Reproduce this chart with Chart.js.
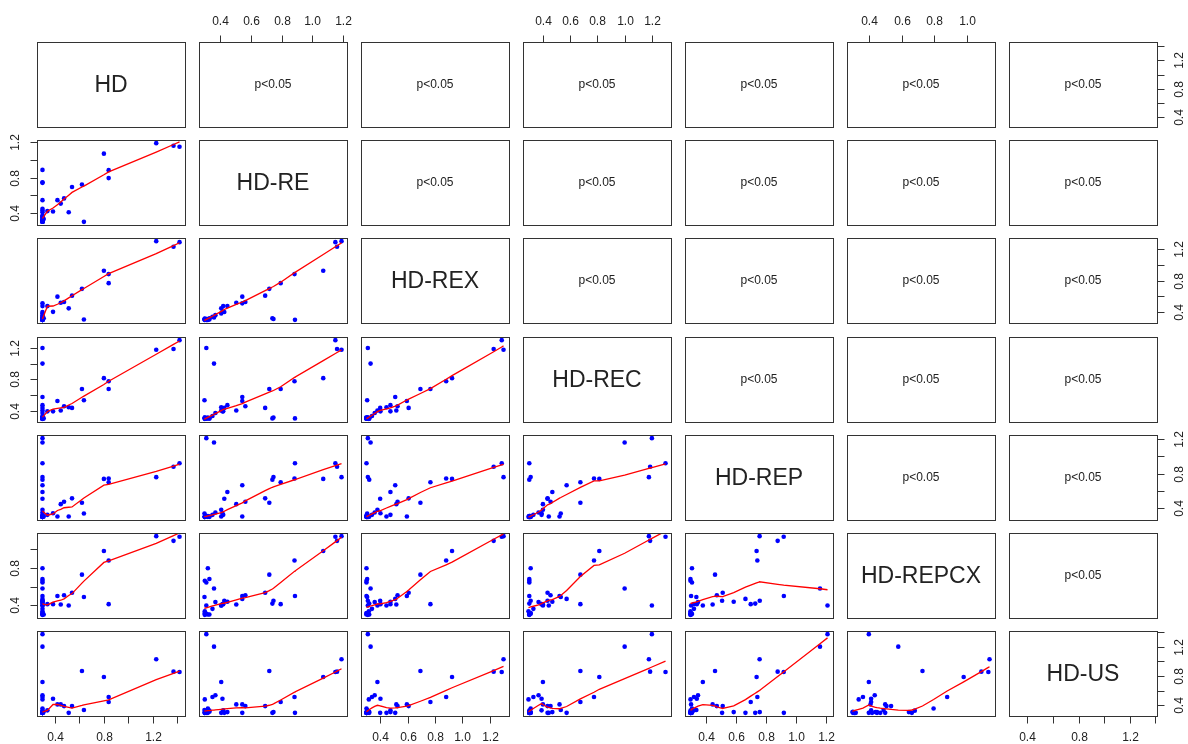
<!DOCTYPE html>
<html>
<head>
<meta charset="utf-8">
<script src="https://cdn.jsdelivr.net/npm/chart.js@4.4.0/dist/chart.umd.min.js"></script>
<style>
  body { margin: 0; background: #fff; }
  #grid { position: relative; width: 1188px; height: 744px; overflow: hidden; }
  #grid canvas { position: absolute; }
</style>
</head>
<body>
<div id="grid"></div>
<script>
// variable names, one per row/column of the matrix
var names = ['HD', 'HD-RE', 'HD-REX', 'HD-REC', 'HD-REP', 'HD-REPCX', 'HD-US'];

// one value per sample, same sample order in every array
var hd      = [0.30, 0.30, 0.30, 0.30, 0.30, 0.30, 0.30, 0.30, 0.30, 0.30, 0.30, 0.30, 0.30, 0.30, 0.31, 0.34, 0.386, 0.422, 0.449, 0.476, 0.514, 0.541, 0.622, 0.638, 0.801, 0.84, 0.84, 1.228, 1.369, 1.418, 0.30, 0.30, 0.30, 0.30, 0.30, 0.30, 0.30];
var hdRe    = [0.31, 0.36, 0.887, 0.747, 0.74, 0.544, 0.447, 0.427, 0.407, 0.369, 0.35, 0.30, 0.32, 0.33, 0.33, 0.42, 0.415, 0.544, 0.505, 0.564, 0.407, 0.693, 0.72, 0.298, 1.071, 0.884, 0.794, 1.19, 1.161, 1.15, 0.30, 0.31, 0.30, 0.32, 0.30, 0.31, 0.30];
var hdRex   = [0.31, 0.33, 0.30, 0.31, 0.32, 0.51, 0.475, 0.40, 0.38, 0.36, 0.34, 0.317, 0.30, 0.305, 0.32, 0.475, 0.402, 0.595, 0.518, 0.527, 0.446, 0.608, 0.694, 0.305, 0.925, 0.882, 0.767, 1.301, 1.229, 1.288, 0.30, 0.30, 0.31, 0.30, 0.31, 0.30, 0.30];
var hdRec   = [1.20, 1.00, 0.30, 0.31, 0.30, 0.574, 0.469, 0.434, 0.40, 0.368, 0.33, 0.294, 0.31, 0.30, 0.30, 0.39, 0.39, 0.522, 0.40, 0.456, 0.443, 0.434, 0.675, 0.531, 0.814, 0.775, 0.675, 1.178, 1.187, 1.30, 0.30, 0.30, 0.31, 0.30, 0.30, 0.30, 0.31];
var hdRep   = [1.21, 1.16, 0.92, 0.76, 0.73, 0.665, 0.587, 0.51, 0.382, 0.35, 0.323, 0.30, 0.31, 0.30, 0.304, 0.323, 0.342, 0.304, 0.447, 0.475, 0.304, 0.514, 0.463, 0.339, 0.739, 0.744, 0.70, 0.759, 0.879, 0.919, 0.30, 0.31, 0.30, 0.30, 0.30, 0.31, 0.30];
var hdRepcx = [0.40, 0.58, 0.50, 0.45, 0.42, 0.47, 0.44, 0.45, 0.40, 0.436, 0.364, 0.338, 0.796, 0.681, 0.303, 0.414, 0.414, 0.50, 0.41, 0.508, 0.40, 0.536, 0.728, 0.49, 0.98, 0.879, 0.414, 1.138, 1.088, 1.131, 0.663, 0.645, 0.313, 0.303, 0.30, 0.31, 0.32];
var hdUs    = [1.37, 1.20, 0.30, 0.31, 0.30, 0.30, 0.31, 0.30, 0.72, 0.54, 0.515, 0.483, 0.36, 0.33, 0.315, 0.334, 0.492, 0.415, 0.415, 0.392, 0.30, 0.392, 0.869, 0.338, 0.787, 0.515, 0.447, 1.028, 0.86, 0.855, 0.30, 0.31, 0.30, 0.30, 0.31, 0.30, 0.30];

var columns = [hd, hdRe, hdRex, hdRec, hdRep, hdRepcx, hdUs];

// text in the upper panels
var pText = 'p<0.05';

// tick labels that get printed (the other ticks stay unlabelled)
var xTickLabels = [
  ['0.4', '0.8', '1.2'],
  ['0.4', '0.6', '0.8', '1.0', '1.2'],
  ['0.4', '0.6', '0.8', '1.0', '1.2'],
  ['0.4', '0.6', '0.8', '1.0', '1.2'],
  ['0.4', '0.6', '0.8', '1.0', '1.2'],
  ['0.4', '0.6', '0.8', '1.0'],
  ['0.4', '0.8', '1.2']
];
var yTickLabels = ['0.4', '0.8', '1.2'];

var M = 45;            // room around a panel for ticks and labels
var panelW = 148, panelH = 85;
var FONT = '"Liberation Sans", Arial, sans-serif';

function panelLeft(j) { return 37 + 162 * j; }
function panelTop(i) { return Math.round(42 + 98.2 * i); }

// data range plus 4% on each side, like base graphics
function padRange(v) {
  var lo = Math.min.apply(null, v), hi = Math.max.apply(null, v);
  var d = (hi - lo) * 0.04;
  return [lo - d, hi + d];
}

// port of the classic lowess smoother (f = 2/3, 3 robustness steps)
function lowest(x, y, n, xs, nleft, nright, w, userw, rw) {
  var range = x[n - 1] - x[0];
  var h = Math.max(xs - x[nleft], x[nright] - xs);
  var h9 = 0.999 * h, h1 = 0.001 * h;
  var a = 0, j = nleft;
  while (j < n) {
    w[j] = 0;
    var r = Math.abs(x[j] - xs);
    if (r <= h9) {
      if (r <= h1) w[j] = 1;
      else w[j] = Math.pow(1 - Math.pow(r / h, 3), 3);
      if (userw) w[j] *= rw[j];
      a += w[j];
    } else if (x[j] > xs) break;
    j++;
  }
  var nrt = j - 1;
  if (a <= 0) return null;
  for (j = nleft; j <= nrt; j++) w[j] /= a;
  if (h > 0) {
    a = 0;
    for (j = nleft; j <= nrt; j++) a += w[j] * x[j];
    var b = xs - a, c = 0;
    for (j = nleft; j <= nrt; j++) c += w[j] * (x[j] - a) * (x[j] - a);
    if (Math.sqrt(c) > 0.001 * range) {
      b /= c;
      for (j = nleft; j <= nrt; j++) w[j] *= (b * (x[j] - a) + 1);
    }
  }
  var ys = 0;
  for (j = nleft; j <= nrt; j++) ys += w[j] * y[j];
  return ys;
}

function lowess(xIn, yIn) {
  var f = 2 / 3, iterations = 3;
  var idx = xIn.map(function(_, k) { return k; });
  idx.sort(function(p, q) { return xIn[p] - xIn[q] || p - q; });
  var x = idx.map(function(k) { return xIn[k]; });
  var y = idx.map(function(k) { return yIn[k]; });
  var n = x.length;
  var ns = Math.max(Math.min(Math.floor(f * n + 1e-7), n), 2);
  var delta = 0.01 * (x[n - 1] - x[0]);
  var ys = new Array(n).fill(0), rw = new Array(n).fill(1);
  var res = new Array(n).fill(0), w = new Array(n).fill(0);
  var iter = 1;
  while (iter <= iterations + 1) {
    var nleft = 0, nright = ns - 1, last = -1, i = 0;
    for (;;) {
      if (nright < n - 1) {
        var d1 = x[i] - x[nleft], d2 = x[nright + 1] - x[i];
        if (d1 > d2) { nleft++; nright++; continue; }
      }
      var v = lowest(x, y, n, x[i], nleft, nright, w, iter > 1, rw);
      ys[i] = v === null ? y[i] : v;
      if (last < i - 1) {
        var denom = x[i] - x[last];
        for (var j = last + 1; j < i; j++) {
          var alpha = (x[j] - x[last]) / denom;
          ys[j] = alpha * ys[i] + (1 - alpha) * ys[last];
        }
      }
      last = i;
      var cut = x[last] + delta;
      for (i = last + 1; i < n; i++) {
        if (x[i] > cut) break;
        if (x[i] === x[last]) { ys[i] = ys[last]; last = i; }
      }
      i = Math.max(last + 1, i - 1);
      if (last >= n - 1) break;
    }
    var sc = 0;
    for (i = 0; i < n; i++) { res[i] = y[i] - ys[i]; sc += Math.abs(res[i]); }
    sc /= n;
    if (iter > iterations) break;
    var ar = res.map(Math.abs).sort(function(p, q) { return p - q; });
    var m1 = Math.floor(n / 2);
    var cmad = n % 2 === 0 ? 3 * (ar[m1] + ar[m1 - 1]) : 6 * ar[m1];
    if (cmad < 1e-7 * sc) break;
    var c9 = 0.999 * cmad, c1 = 0.001 * cmad;
    for (i = 0; i < n; i++) {
      var r = Math.abs(res[i]);
      if (r <= c1) rw[i] = 1;
      else if (r <= c9) rw[i] = Math.pow(1 - Math.pow(r / cmad, 2), 2);
      else rw[i] = 0;
    }
    iter++;
  }
  return x.map(function(xv, k) { return { x: xv, y: ys[k] }; });
}

function tickValues(scale) {
  var out = [];
  var k0 = Math.ceil(scale.min / 0.2 - 1e-9), k1 = Math.floor(scale.max / 0.2 + 1e-9);
  for (var k = k0; k <= k1; k++) out.push(k * 0.2);
  return out;
}

function hAxis(ctx, scale, y0, dir, labels) {
  tickValues(scale).forEach(function(v) {
    var px = Math.round(scale.getPixelForValue(v)) + 0.5;
    ctx.beginPath();
    ctx.moveTo(px, y0);
    ctx.lineTo(px, y0 + dir * 7);
    ctx.stroke();
    var txt = v.toFixed(1);
    if (labels.indexOf(txt) >= 0) ctx.fillText(txt, px, y0 + dir * 21);
  });
}

function vAxis(ctx, scale, x0, dir, labels) {
  tickValues(scale).forEach(function(v) {
    var py = Math.round(scale.getPixelForValue(v)) + 0.5;
    ctx.beginPath();
    ctx.moveTo(x0, py);
    ctx.lineTo(x0 + dir * 7, py);
    ctx.stroke();
    var txt = v.toFixed(1);
    if (labels.indexOf(txt) >= 0) {
      ctx.save();
      ctx.translate(x0 + dir * 22, py);
      ctx.rotate(-Math.PI / 2);
      ctx.fillText(txt, 0, 0);
      ctx.restore();
    }
  });
}

// frame, diagonal names, p-value text and outer axes
function panelPlugin(i, j) {
  return {
    id: 'panel_' + i + '_' + j,
    afterDraw: function(chart) {
      var ctx = chart.ctx, a = chart.chartArea;
      var sx = chart.scales.x, sy = chart.scales.y;
      ctx.save();
      ctx.strokeStyle = '#333';
      ctx.lineWidth = 1;
      ctx.strokeRect(Math.round(a.left) + 0.5, Math.round(a.top) + 0.5,
                     Math.round(a.right - a.left), Math.round(a.bottom - a.top));
      ctx.fillStyle = '#222';
      ctx.textAlign = 'center';
      ctx.textBaseline = 'middle';
      var cx = (a.left + a.right) / 2, cy = (a.top + a.bottom) / 2;
      if (i === j) {
        ctx.font = '23px ' + FONT;
        ctx.fillText(names[i], cx, cy + 1);
      } else if (j > i) {
        ctx.font = '12px ' + FONT;
        ctx.fillText(pText, cx, cy);
      }
      ctx.font = '12px ' + FONT;
      if (i === 0 && j % 2 === 1) hAxis(ctx, sx, Math.round(a.top) + 0.5, -1, xTickLabels[j]);
      if (i === 6 && j % 2 === 0) hAxis(ctx, sx, Math.round(a.bottom) + 0.5, 1, xTickLabels[j]);
      if (j === 0 && i % 2 === 1) vAxis(ctx, sy, Math.round(a.left) + 0.5, -1, yTickLabels);
      if (j === 6 && i % 2 === 0) vAxis(ctx, sy, Math.round(a.right) + 0.5, 1, yTickLabels);
      ctx.restore();
    }
  };
}

var grid = document.getElementById('grid');

for (var i = 0; i < 7; i++) {
  for (var j = 0; j < 7; j++) {
    var cv = document.createElement('canvas');
    cv.width = panelW + 2 * M;
    cv.height = panelH + 2 * M;
    cv.style.left = (panelLeft(j) - M) + 'px';
    cv.style.top = (panelTop(i) - M) + 'px';
    grid.appendChild(cv);

    var xr = padRange(columns[j]), yr = padRange(columns[i]);
    var datasets = [];
    if (i > j) {
      var xs = columns[j], ys = columns[i];
      datasets.push({
        data: lowess(xs, ys),
        showLine: true,
        borderColor: '#ff0000',
        borderWidth: 1.3,
        pointRadius: 0,
        tension: 0
      });
      datasets.push({
        data: xs.map(function(v, k) { return { x: v, y: ys[k] }; }),
        pointRadius: 2.3,
        pointBackgroundColor: '#0000ff',
        pointBorderWidth: 0,
        showLine: false
      });
    }

    new Chart(cv, {
      type: 'scatter',
      data: { datasets: datasets },
      options: {
        responsive: false,
        animation: false,
        events: [],
        layout: { padding: M },
        scales: {
          x: { type: 'linear', display: false, min: xr[0], max: xr[1] },
          y: { type: 'linear', display: false, min: yr[0], max: yr[1] }
        },
        plugins: { legend: { display: false }, tooltip: { enabled: false } }
      },
      plugins: [panelPlugin(i, j)]
    });
  }
}
</script>
</body>
</html>
